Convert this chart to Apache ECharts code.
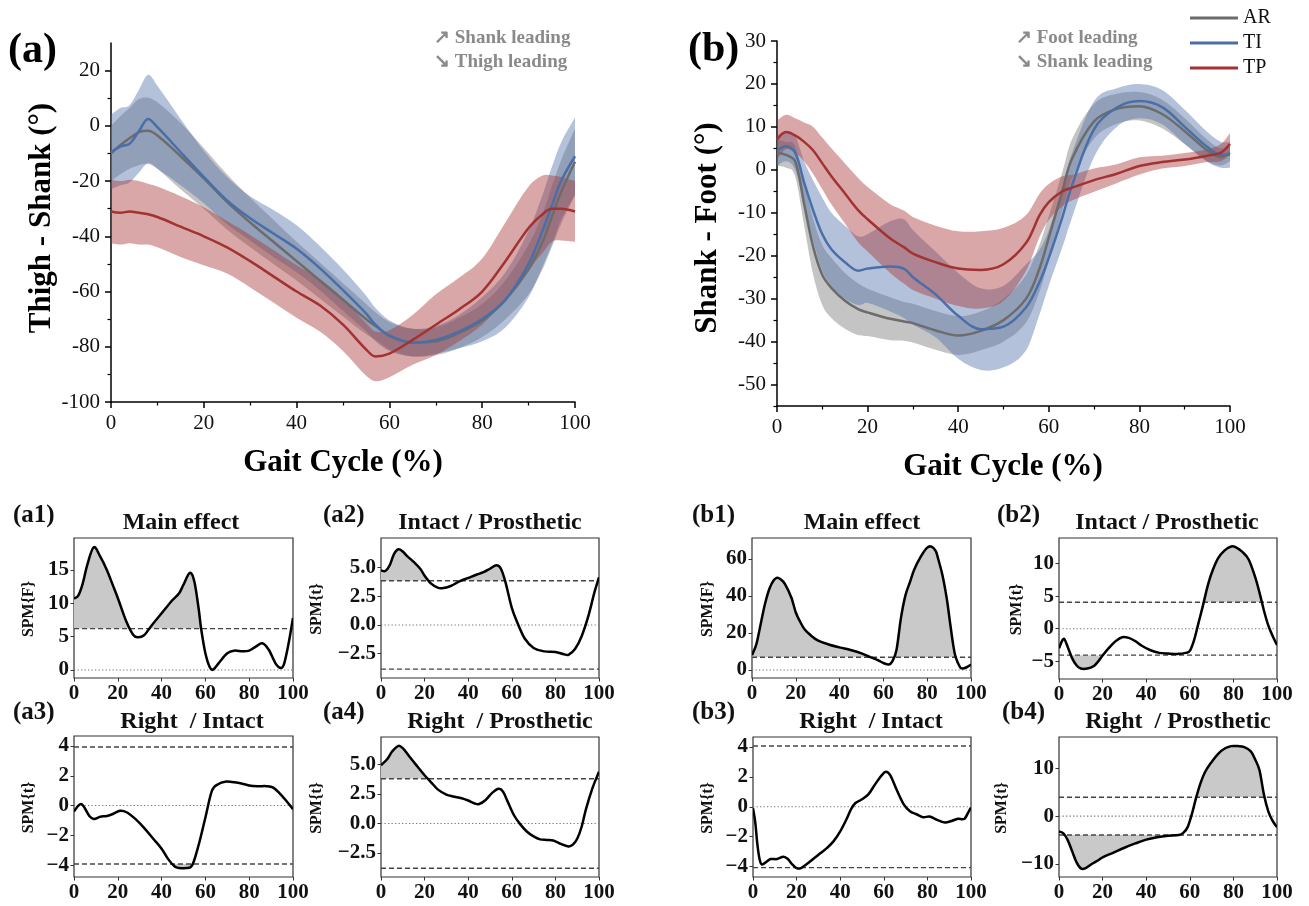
<!DOCTYPE html>
<html><head><meta charset="utf-8">
<script src="https://cdn.jsdelivr.net/npm/echarts@6/dist/echarts.min.js"></script>
<style>html,body{margin:0;padding:0;background:#fff}#c{width:1309px;height:906px}</style>
</head><body><div id="c"></div>
<script>
// ---------- DATA: panel (a) Thigh - Shank ----------
const gaitA = [0,2,4,6,8,10,15,20,25,30,35,40,45,50,55,57,60,65,70,75,80,85,90,93,95,97,100];
const arMeanA = [-10,-7,-4.5,-2.3,-1.8,-3.5,-11,-19,-27.5,-35,-42,-49,-56,-63,-70,-72.5,-76,-78.5,-78,-75,-70.5,-63,-52,-42,-33,-24,-13];
const arSdA   = [10,10.5,11,12,12,12,12,11,10,9,8,7,6.5,6,5.5,5,5,5,5,5.5,6,7,9,10,11,11.5,12];
const tiMeanA = [-9.5,-7.5,-6.5,-2,2.5,-0.5,-9.5,-18.5,-27,-33.5,-39,-44.5,-51.5,-59.5,-68,-72,-76,-78.5,-77.5,-74.5,-70,-63,-50,-38,-29,-20,-11];
const tiSdA   = [13.5,14,14,15,16,15,12,9.5,8.5,8,8.5,8.5,8,7.5,6.5,6,5.5,5,5,6,8,10,12,13,14,14,14];
const tpMeanA = [-31,-31.5,-31,-31.5,-32,-33,-36.5,-40,-44,-49,-54.5,-60,-65,-72,-81,-83.5,-82.5,-77.5,-72,-66.5,-60,-49,-37,-32,-30,-30,-31];
const tpSdA   = [11.5,11.5,11.5,11.5,11,11,11,10.5,9.5,9.5,9.5,9.5,9.5,9.5,9.5,9,8.5,9,11,11.5,12,14,15,14,12,11.5,11];
const yTicksA = [-100,-80,-60,-40,-20,0,20];
const yMinorA = [-90,-70,-50,-30,-10,10];

// ---------- DATA: panel (b) Shank - Foot ----------
const gaitB = [0,2,4,6,8,10,12,15,18,20,25,28,30,35,40,45,50,55,58,60,63,65,70,75,80,85,90,95,98,100];
const arMeanB = [4,3.5,2,-8,-18,-24.5,-27.5,-30.5,-32.5,-33.2,-34.7,-35.3,-35.7,-37.4,-38.6,-37.5,-35,-30,-22.8,-15.8,-5,2.3,11.3,14.2,14.8,13,9,4.5,3,4];
const arSdB   = [3,3,3.5,5,6.5,7,7,6.5,6,5.5,5,4.5,4.5,4.5,4.5,4.5,5,5.5,5.5,5,4.5,4.5,4,3.5,3.3,3.3,3,2.5,2,2];
const tiMeanB = [4.5,5.5,4,-3,-9.5,-15,-18.5,-21.5,-23.5,-23,-22.5,-23,-25,-29,-34,-37.1,-36.5,-32,-26,-20.5,-11,-4,9.5,14.5,16,14.6,10,5.3,3.5,3.5];
const tiSdB   = [3.5,3.5,4,5,7,8.5,8.5,8.5,8,8,10.5,11.5,11,10,10,9.5,9.5,10,7.5,6.5,7,7.5,6.5,4.5,4,4,4,3.5,3,3];
const tpMeanB = [7,8.8,8,6.5,4.5,1.5,-1.5,-5.5,-9.5,-11.5,-16,-18,-19.5,-21.5,-23,-23.3,-22,-17,-10.5,-7.5,-5,-4.2,-2.4,-0.9,0.9,1.8,2.4,3.3,4,6];
const tpSdB   = [4.5,4,4,4.5,5.5,6,6.5,7,7.5,7.5,8,8.5,8.5,8.5,8.7,9,8.5,6.5,5,4.2,3.5,3,2.7,2.2,2,1.5,1.5,1.5,2,2.5];
const yTicksB = [-50,-40,-30,-20,-10,0,10,20,30];
const yMinorB = [-55,-45,-35,-25,-15,-5,5,15,25];
const groupNames = ['AR','TI','TP'];

// ---------- DATA: SPM panels ----------
const a1X = [0,2,4,6,9,12,15,18,20,24,27,29,32,35,40,45,48,50,53,55,57,58,60,62,63.5,66,70,73,77,80,83,86,89,92,94.5,96,98,100];
const a1Y = [10.7,11.2,13,15.7,18.4,17,15,12.5,10.8,7.2,5.3,4.9,5.2,6.5,8.5,10.5,11.5,12.8,14.6,13.2,9,6.3,2.5,0.4,0.05,1,2.5,2.9,2.8,2.9,3.5,4.0,3,1,0.3,1,4,7.8];
const a2X = [0,2,4,6,8,10,12,15,18,20,23,26,28,32,36,40,44,47,50,53,55,57,60,63,66,70,75,80,84,86,89,92,95,98,100];
const a2Y = [4.75,4.7,5.2,6.2,6.6,6.4,6.0,5.5,4.9,4.3,3.6,3.25,3.2,3.4,3.8,4.1,4.4,4.6,4.9,5.2,4.9,3.8,1.5,0,-1.2,-2.0,-2.3,-2.35,-2.55,-2.6,-2.1,-1.0,0.7,2.9,4.15];
const a3X = [0,2,3.5,5,7,9,12,15,18,21,24,28,32,36,40,43,46,48,51,54,57,60,63,66,69,72,76,80,84,88,91,94,97,100];
const a3Y = [-0.4,0,0.1,-0.2,-0.7,-0.9,-0.75,-0.7,-0.55,-0.35,-0.45,-0.9,-1.5,-2.2,-2.9,-3.6,-4.1,-4.2,-4.2,-4.0,-2.6,-0.8,1.0,1.45,1.6,1.58,1.5,1.35,1.3,1.3,1.2,0.8,0.3,-0.25];
const a4X = [0,3,5,8,10,13,16,20,23,26,30,33,37,40,43,45,48,51,54,56,58,61,64,67,70,73,76,79,82,86,88,90,92,94,97,100];
const a4Y = [4.95,5.5,6.1,6.6,6.4,5.7,5.0,4.1,3.5,2.9,2.45,2.3,2.15,1.95,1.7,1.65,2.0,2.6,2.95,2.7,1.9,0.7,-0.1,-0.7,-1.1,-1.35,-1.4,-1.45,-1.7,-1.95,-1.8,-1.3,-0.3,1.2,3,4.4];
const b1X = [0,2,4,6,8,10,11.5,13,15,18,20,22,24,27,30,35,40,45,50,55,58,60,62.5,64,66,68,70,72,74,77,80,82,84,85,87,89,90.5,92,93,95,96,98,100];
const b1Y = [8,14,25,36,44,48.5,49.8,49,46.5,39,31,26,22,18.5,16,13.8,12.2,10.8,9,6.5,5,3.8,3,4.5,11,28,40,47,54,61,66,66.5,64,60,51,38,25,12.6,7,1.5,0.8,1.5,3];
const b2X = [0,1.5,2.5,4,6,8,10,13,16,18,20,23,26,29,32,35,38,42,46,50,55,58,60,62,64,66,68,70,73,76,79,81,84,87,90,92,94,96,98,100];
const b2Y = [-3,-1.8,-1.6,-2.8,-4.5,-5.6,-6.1,-6.1,-5.7,-5.0,-4.1,-2.9,-1.9,-1.3,-1.4,-1.9,-2.6,-3.3,-3.7,-3.8,-3.85,-3.7,-3.4,-1.7,0.9,3.5,6.3,8.5,10.8,12.0,12.6,12.5,11.8,10.6,7.9,5.5,2.8,0.5,-1.1,-2.5];
const b3X = [0,1,2,3,4,6,8,11,14,16,18,20,22,25,28,31,34,37,40,43,45,47,50,53,56,59,61,63,66,69,72,75,78,81,84,88,91,94,97,99,100];
const b3Y = [-0.1,-1,-2.5,-3.5,-3.85,-3.7,-3.5,-3.5,-3.35,-3.5,-3.85,-4.1,-4.1,-3.8,-3.45,-3.1,-2.75,-2.3,-1.65,-0.8,-0.15,0.25,0.5,0.85,1.5,2.1,2.35,2.1,1.1,0.2,-0.3,-0.5,-0.7,-0.65,-0.85,-1.05,-0.95,-0.8,-0.8,-0.3,-0.05];
const b4X = [0,2,4,6,8,10,12,15,18,20,25,30,35,40,45,50,55,57,59,61,63,65,67,70,73,76,79,82,85,88,90,92,94,96,98,100];
const b4Y = [-3.2,-3.6,-5,-7.3,-9.6,-10.9,-10.9,-10,-9.2,-8.6,-7.6,-6.6,-5.7,-4.9,-4.4,-4.1,-3.95,-3.5,-2.3,0.5,4,7,9.2,11.3,13,14.1,14.6,14.6,14.4,13.5,11.8,9.5,4.5,1.0,-1.0,-2.3];
const spmTitles = ['Main effect','Intact / Prosthetic','Right  / Intact','Right  / Prosthetic','Main effect','Intact / Prosthetic','Right  / Intact','Right  / Prosthetic'];
const spmLabels = ['(a1)','(a2)','(a3)','(a4)','(b1)','(b2)','(b3)','(b4)'];
const spmYNames = ['SPM{F}','SPM{t}','SPM{t}','SPM{t}','SPM{F}','SPM{t}','SPM{t}','SPM{t}'];
const spmThresholds = [6.2, 3.85, 3.93, 3.8, 6.85, 4.05, 4.07, 3.93];
const spmTwoSided = [false,true,true,true,false,true,true,true];
const spmTicks = [[0,5,10,15],[-2.5,0,2.5,5],[-4,-2,0,2,4],[-2.5,0,2.5,5],[0,20,40,60],[-5,0,5,10],[-4,-2,0,2,4],[-10,0,10]];
const spmDecimals = [0,1,0,1,0,0,0,0];
const xTicksSmall = [0,20,40,60,80,100];

// ---------- STYLE / LAYOUT ----------
const SERIF = '"Liberation Serif","Times New Roman",serif';
const LINE_COL = {AR:'#6c6c6c', TI:'#4a6ea8', TP:'#a33232'};
const BAND_COL = {AR:'rgba(125,125,125,0.45)', TI:'rgba(74,110,168,0.42)', TP:'rgba(168,52,52,0.43)'};
const FILL = '#c9c9c9';
const SM = 0.34;

const grids = [], xAxes = [], yAxes = [], series = [], graphics = [];
const pairs = (xs, ys) => xs.map((x, i) => [x, ys[i]]);

// smooth path through pixel points (tangent-based cubic bezier)
function smoothPath(pts, s, lead) {
  const n = pts.length;
  let d = (lead || 'M') + pts[0][0].toFixed(2) + ',' + pts[0][1].toFixed(2);
  const tan = pts.map((p, i) => {
    const a = pts[Math.max(i - 1, 0)], b = pts[Math.min(i + 1, n - 1)];
    return [b[0] - a[0], b[1] - a[1]];
  });
  const dist = (p, q) => Math.abs(q[0] - p[0]) + 1e-9;
  for (let i = 0; i < n - 1; i++) {
    const p1 = pts[i], p2 = pts[i + 1];
    const dp1 = i > 0 ? dist(pts[i - 1], p1) : 0, dn1 = dist(p1, p2);
    const r1 = i > 0 ? dn1 / (dp1 + dn1) : 1;
    const dp2 = dist(p1, p2), dn2 = i + 2 < n ? dist(p2, pts[i + 2]) : 0;
    const r2 = i + 2 < n ? dp2 / (dp2 + dn2) : 1;
    const c1 = [p1[0] + tan[i][0] * s * r1, p1[1] + tan[i][1] * s * r1];
    const c2 = [p2[0] - tan[i + 1][0] * s * r2, p2[1] - tan[i + 1][1] * s * r2];
    d += ' C' + c1[0].toFixed(2) + ',' + c1[1].toFixed(2) + ' ' + c2[0].toFixed(2) + ',' + c2[1].toFixed(2) + ' ' + p2[0].toFixed(2) + ',' + p2[1].toFixed(2);
  }
  return d;
}

function bigPanel(grid, xs, means, sds, ymin, ymax, major, minor) {
  const gi = grids.length; grids.push(grid);
  const xi = xAxes.length;
  xAxes.push({gridIndex: gi, type: 'value', min: 0, max: 100, interval: 20,
    axisLine: {onZero: false, lineStyle: {color: '#000', width: 1.5}},
    axisTick: {length: 6, lineStyle: {color: '#000', width: 1.5}},
    minorTick: {show: true, splitNumber: 2, length: 3.5, lineStyle: {color: '#000', width: 1.2}},
    axisLabel: {fontFamily: SERIF, fontSize: 21, color: '#111', margin: 11},
    splitLine: {show: false}, minorSplitLine: {show: false}});
  const yi = yAxes.length;
  yAxes.push({gridIndex: gi, type: 'value', min: ymin, max: ymax, position: 'left',
    axisLine: {show: true, onZero: false, lineStyle: {color: '#000', width: 1.5}},
    axisTick: {show: true, length: 6, customValues: major, lineStyle: {color: '#000', width: 1.5}},
    axisLabel: {customValues: major, fontFamily: SERIF, fontSize: 21, color: '#111', margin: 11},
    splitLine: {show: false}});
  yAxes.push({gridIndex: gi, type: 'value', min: ymin, max: ymax, position: 'left',
    axisLine: {show: false, onZero: false},
    axisTick: {show: true, length: 3.5, customValues: minor, lineStyle: {color: '#000', width: 1.2}},
    axisLabel: {show: false}, splitLine: {show: false}});
  groupNames.forEach((g, k) => {
    const m = means[k], s = sds[k];
    series.push({type: 'custom', name: g + ' band', xAxisIndex: xi, yAxisIndex: yi, silent: true, z: 1, clip: true,
      data: xs.map((x, i) => [x, m[i] - s[i], m[i] + s[i]]),
      encode: {x: 0, y: [1, 2]},
      renderItem: (params, api) => {
        if (params.dataIndex !== 0) return;
        const up = xs.map((x, i) => api.coord([x, m[i] + s[i]]));
        const lo = xs.map((x, i) => api.coord([x, m[i] - s[i]])).reverse();
        return {type: 'path', shape: {pathData: smoothPath(up, SM) + ' ' + smoothPath(lo, SM, 'L') + ' Z'},
          style: {fill: BAND_COL[g], stroke: null}};
      }});
  });
  groupNames.forEach((g, k) => {
    series.push({type: 'line', name: g, color: LINE_COL[g], xAxisIndex: xi, yAxisIndex: yi,
      data: pairs(xs, means[k]), smooth: 0.35, symbol: 'none', silent: true,
      lineStyle: {width: 2.5, color: LINE_COL[g]}, itemStyle: {color: LINE_COL[g]}, z: 3});
  });
}

bigPanel({left: 111, top: 43, width: 464, height: 359}, gaitA,
  [arMeanA, tiMeanA, tpMeanA], [arSdA, tiSdA, tpSdA], -100, 30, yTicksA, yMinorA);
bigPanel({left: 777, top: 41, width: 453, height: 365}, gaitB,
  [arMeanB, tiMeanB, tpMeanB], [arSdB, tiSdB, tpSdB], -55, 30, yTicksB, yMinorB);

const spmGrids = [
  {left: 74, top: 538, width: 219, height: 140},
  {left: 381, top: 538, width: 218, height: 140},
  {left: 74, top: 736, width: 219, height: 141},
  {left: 381, top: 737, width: 218, height: 140},
  {left: 752, top: 538, width: 219, height: 140},
  {left: 1059, top: 538, width: 218, height: 141},
  {left: 753, top: 737, width: 218, height: 140},
  {left: 1059, top: 737, width: 218, height: 140}
];
const spmRanges = [[-1.2, 19.8], [-4.62, 7.58], [-4.8, 4.67], [-4.55, 7.35], [-4.3, 71.2], [-7.7, 13.9], [-4.7, 4.67], [-12.7, 16.5]];
const spmData = [[a1X, a1Y], [a2X, a2Y], [a3X, a3Y], [a4X, a4Y], [b1X, b1Y], [b2X, b2Y], [b3X, b3Y], [b4X, b4Y]];
const titleCx = [181, 490, 192, 500, 862, 1167, 871, 1178];
const labelX = [13, 323, 13, 323, 692, 997, 692, 1002];
const yNameX = [29, 317, 29, 317, 708, 1017, 708, 1002];

const fmtNum = (v, d) => (v < 0 ? '\u2212' : '') + Math.abs(v).toFixed(d);

function txt(text, x, y, font, fill, align, valign, rotation) {
  return {type: 'text', x, y, rotation: rotation || 0, silent: true, z: 100,
    style: {text, x: 0, y: 0, font, fill, textAlign: align, textVerticalAlign: valign, align, verticalAlign: valign}};
}

spmGrids.forEach((g, p) => {
  const gi = grids.length;
  grids.push(Object.assign({show: true, borderColor: '#333', borderWidth: 1.2, backgroundColor: 'transparent'}, g));
  const xi = xAxes.length;
  xAxes.push({gridIndex: gi, type: 'value', min: 0, max: 100, interval: 20,
    axisLine: {show: false, onZero: false},
    axisTick: {show: true, length: 3.5, customValues: xTicksSmall, lineStyle: {color: '#333', width: 1}},
    axisLabel: {customValues: xTicksSmall, fontFamily: SERIF, fontWeight: 'bold', fontSize: 21, color: '#111', margin: 5},
    splitLine: {show: false}});
  const yi = yAxes.length;
  const dec = spmDecimals[p];
  yAxes.push({gridIndex: gi, type: 'value', min: spmRanges[p][0], max: spmRanges[p][1],
    axisLine: {show: false, onZero: false},
    axisTick: {show: true, length: 3.5, customValues: spmTicks[p], lineStyle: {color: '#333', width: 1}},
    axisLabel: {customValues: spmTicks[p], formatter: v => fmtNum(v, dec), fontFamily: SERIF, fontWeight: 'bold', fontSize: 21, color: '#111', margin: 5},
    splitLine: {show: false}});
  const thr = spmThresholds[p];
  const two = spmTwoSided[p];
  const xs = spmData[p][0], ys = spmData[p][1];
  series.push({type: 'custom', name: 'spm' + p, xAxisIndex: xi, yAxisIndex: yi, silent: true, z: 2, clip: true,
    data: pairs(xs, ys), encode: {x: 0, y: 1},
    renderItem: (params, api) => {
      if (params.dataIndex !== 0) return;
      const cs = params.coordSys;
      const pts = xs.map((x, i) => api.coord([x, ys[i]]));
      const curve = smoothPath(pts, SM);
      const x0 = pts[0][0], xn = pts[pts.length - 1][0];
      const left = api.coord([0, 0])[0], right = api.coord([100, 0])[0];
      const yT = api.coord([0, thr])[1];
      const y0 = api.coord([0, 0])[1];
      const children = [];
      children.push({type: 'path', shape: {pathData: curve + ' L' + xn + ',' + yT + ' L' + x0 + ',' + yT + ' Z'},
        style: {fill: FILL, stroke: null},
        clipPath: {type: 'rect', shape: {x: cs.x, y: cs.y, width: cs.width, height: yT - cs.y}}});
      const lines = [yT];
      if (two) {
        const yB = api.coord([0, -thr])[1];
        children.push({type: 'path', shape: {pathData: curve + ' L' + xn + ',' + yB + ' L' + x0 + ',' + yB + ' Z'},
          style: {fill: FILL, stroke: null},
          clipPath: {type: 'rect', shape: {x: cs.x, y: yB, width: cs.width, height: cs.y + cs.height - yB}}});
        lines.push(yB);
      }
      children.push({type: 'line', shape: {x1: left, y1: y0, x2: right, y2: y0},
        style: {stroke: '#777', lineWidth: 1.1, lineDash: [1.3, 2.2]}});
      lines.forEach(yy => children.push({type: 'line', shape: {x1: left, y1: yy, x2: right, y2: yy},
        style: {stroke: '#444', lineWidth: 1.4, lineDash: [5, 3]}}));
      children.push({type: 'path', shape: {pathData: curve},
        style: {fill: null, stroke: '#000', lineWidth: 2.5, lineJoin: 'round'}});
      return {type: 'group', children};
    }});
  const lower = g.top > 700;
  graphics.push(txt(spmTitles[p], titleCx[p], lower ? 722 : 523, 'bold 24px ' + SERIF, '#111', 'center', 'middle'));
  graphics.push(txt(spmLabels[p], labelX[p], lower ? 713 : 516, 'bold 25px ' + SERIF, '#111', 'left', 'middle'));
  graphics.push(txt(spmYNames[p], yNameX[p], g.top + g.height / 2 + 1, 'bold 16px ' + SERIF, '#111', 'center', 'middle', Math.PI / 2));
});

graphics.push(txt('(a)', 8, 51, 'bold 42px ' + SERIF, '#000', 'left', 'middle'));
graphics.push(txt('(b)', 688, 50, 'bold 42px ' + SERIF, '#000', 'left', 'middle'));
graphics.push(txt('\u2197 Shank leading', 434, 38, 'bold 19px ' + SERIF, '#8a8a8a', 'left', 'middle'));
graphics.push(txt('\u2198 Thigh leading', 434, 62, 'bold 19px ' + SERIF, '#8a8a8a', 'left', 'middle'));
graphics.push(txt('\u2197 Foot leading', 1016, 38, 'bold 19px ' + SERIF, '#8a8a8a', 'left', 'middle'));
graphics.push(txt('\u2198 Shank leading', 1016, 62, 'bold 19px ' + SERIF, '#8a8a8a', 'left', 'middle'));
graphics.push(txt('Thigh - Shank (\u00b0)', 42, 218, 'bold 31px ' + SERIF, '#000', 'center', 'middle', Math.PI / 2));
graphics.push(txt('Shank - Foot (\u00b0)', 708, 228, 'bold 31px ' + SERIF, '#000', 'center', 'middle', Math.PI / 2));
graphics.push(txt('Gait Cycle (%)', 343, 463, 'bold 31px ' + SERIF, '#000', 'center', 'middle'));
graphics.push(txt('Gait Cycle (%)', 1003, 467, 'bold 31px ' + SERIF, '#000', 'center', 'middle'));

const chart = echarts.init(document.getElementById('c'), null, {renderer: 'canvas'});
chart.setOption({
  animation: false,
  backgroundColor: '#fff',
  legend: {data: groupNames, orient: 'vertical', left: 1190, top: 8, padding: 0, itemWidth: 48, itemHeight: 3, itemGap: 5,
    icon: 'rect', textStyle: {fontFamily: SERIF, fontSize: 20, color: '#111'}, selectedMode: false},
  grid: grids, xAxis: xAxes, yAxis: yAxes, series,
  graphic: {elements: graphics}
});
</script></body></html>
